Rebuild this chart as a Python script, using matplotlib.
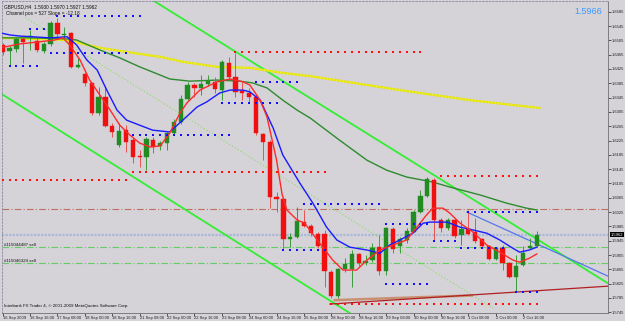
import matplotlib.pyplot as plt
from matplotlib.transforms import blended_transform_factory

plt.rcParams['font.family'] = ['Liberation Sans', 'DejaVu Sans']

# ---- candles (GBPUSD H4) ----
opens = [1.6492, 1.6475, 1.6481, 1.6509, 1.6514, 1.6503, 1.6475, 1.6495, 1.6554, 1.6520,
         1.6526, 1.6430, 1.6411, 1.6386, 1.6302, 1.6346, 1.6265, 1.6212, 1.6254, 1.6226,
         1.6181, 1.6178, 1.6226, 1.6209, 1.6218, 1.6246, 1.6276, 1.6341, 1.6380, 1.6372,
         1.6383, 1.6388, 1.6366, 1.6442, 1.6402, 1.6363, 1.6358, 1.6346, 1.6243, 1.6220,
         1.6066, 1.6063, 1.5949, 1.5955, 1.5997, 1.5986, 1.5963, 1.5963, 1.5857, 1.5790,
         1.5865, 1.5865, 1.5907, 1.5882, 1.5890, 1.5927, 1.5860, 1.5977, 1.5930, 1.5946,
         1.5969, 1.6025, 1.6069, 1.6114, 1.6002, 1.5980, 1.6002, 1.5960, 1.5977, 1.5969,
         1.5949, 1.5930, 1.5893, 1.5924, 1.5882, 1.5843, 1.5876, 1.5924, 1.5930]
highs = [1.6498, 1.6489, 1.6514, 1.6514, 1.6534, 1.6512, 1.6500, 1.6559, 1.6568, 1.6542,
         1.6528, 1.6456, 1.6416, 1.6388, 1.6374, 1.6377, 1.6274, 1.6274, 1.6268, 1.6232,
         1.6198, 1.6234, 1.6234, 1.6223, 1.6248, 1.6285, 1.6352, 1.6388, 1.6386, 1.6408,
         1.6408, 1.6402, 1.6450, 1.6458, 1.6470, 1.6388, 1.6372, 1.6355, 1.6246, 1.6226,
         1.6080, 1.6066, 1.5966, 1.6038, 1.6030, 1.5991, 1.5969, 1.5974, 1.5862, 1.5870,
         1.5896, 1.5918, 1.5912, 1.5904, 1.5938, 1.5960, 1.5982, 1.5982, 1.5955, 1.5980,
         1.6030, 1.6086, 1.6122, 1.6120, 1.6008, 1.6008, 1.6008, 1.6002, 1.6030, 1.6008,
         1.5952, 1.5932, 1.5927, 1.5932, 1.5885, 1.5904, 1.5930, 1.5952, 1.5971]
lows = [1.6464, 1.6436, 1.6472, 1.6442, 1.6478, 1.6472, 1.6470, 1.6489, 1.6517, 1.6512,
        1.6428, 1.6428, 1.6377, 1.6296, 1.6296, 1.6262, 1.6234, 1.6206, 1.6192, 1.6162,
        1.6150, 1.6142, 1.6190, 1.6198, 1.6198, 1.6240, 1.6271, 1.6338, 1.6346, 1.6352,
        1.6377, 1.6358, 1.6338, 1.6394, 1.6346, 1.6338, 1.6332, 1.6240, 1.6170, 1.6036,
        1.6025, 1.5918, 1.5927, 1.5952, 1.5983, 1.5958, 1.5924, 1.5815, 1.5784, 1.5784,
        1.5857, 1.5815, 1.5873, 1.5876, 1.5885, 1.5848, 1.5848, 1.5910, 1.5912, 1.5940,
        1.5969, 1.6022, 1.6066, 1.5946, 1.5969, 1.5974, 1.5952, 1.5932, 1.5960, 1.5938,
        1.5927, 1.5890, 1.5890, 1.5862, 1.5840, 1.5801, 1.5873, 1.5921, 1.5927]
closes = [1.6472, 1.6484, 1.6509, 1.6500, 1.6517, 1.6478, 1.6495, 1.6554, 1.6523, 1.6523,
          1.6430, 1.6436, 1.6386, 1.6302, 1.6346, 1.6265, 1.6248, 1.6251, 1.6220, 1.6178,
          1.6178, 1.6229, 1.6206, 1.6218, 1.6246, 1.6276, 1.6341, 1.6380, 1.6372, 1.6383,
          1.6391, 1.6369, 1.6444, 1.6402, 1.6360, 1.6358, 1.6346, 1.6246, 1.6220, 1.6066,
          1.6063, 1.5949, 1.5955, 1.5999, 1.5986, 1.5966, 1.5930, 1.5860, 1.5790, 1.5865,
          1.5879, 1.5907, 1.5882, 1.5888, 1.5924, 1.5860, 1.5980, 1.5921, 1.5949, 1.5971,
          1.6025, 1.6069, 1.6117, 1.6002, 1.5980, 1.6002, 1.5958, 1.5977, 1.5963, 1.5943,
          1.5930, 1.5893, 1.5924, 1.5882, 1.5843, 1.5874, 1.5910, 1.5930, 1.5962]

# ---- indicator lines (bar position, price) ----
red_ma_x = [-0.4, 2.5, 5.4, 7.6, 8.8, 9.8, 11.3, 12.7, 14.2, 15.7, 17.1, 18.6, 20.0, 21.5,
            23.0, 24.4, 25.9, 26.9, 28.8, 31.3, 33.2, 35.1, 36.1, 37.6, 38.6, 40.0, 40.8,
            41.5, 43.0, 44.1, 46.3, 48.2, 49.7, 51.7, 53.2, 55.1, 57.0, 59.0, 60.5, 61.9,
            62.8, 64.3, 65.3, 66.8, 68.7, 70.7, 72.6, 74.5, 75.5, 76.9, 78.0]
red_ma_y = [1.6484, 1.6495, 1.6501, 1.6506, 1.6512, 1.6492, 1.6450, 1.6394, 1.6352, 1.6310,
            1.6268, 1.6240, 1.6218, 1.6207, 1.6210, 1.6246, 1.6302, 1.6330, 1.6366, 1.6389,
            1.6397, 1.6389, 1.6380, 1.6338, 1.6291, 1.6170, 1.6075, 1.6031, 1.6003, 1.5994,
            1.5938, 1.5891, 1.5863, 1.5863, 1.5891, 1.5919, 1.5933, 1.5947, 1.5983, 1.6017,
            1.6036, 1.6036, 1.6022, 1.5994, 1.5969, 1.5933, 1.5913, 1.5891, 1.5885, 1.5896,
            1.5908]
blue_ma_x = [-0.4, 1.1, 2.5, 4.4, 6.9, 9.4, 10.8, 12.3, 13.8, 15.2, 16.7, 18.1, 20.0, 21.9,
             24.4, 26.3, 28.4, 29.8, 31.7, 33.2, 35.1, 36.1, 37.6, 39.5, 40.9, 43.4, 45.3,
             47.3, 48.8, 50.7, 53.2, 55.1, 56.5, 58.0, 59.9, 61.4, 62.4, 64.9, 66.8, 68.7,
             70.7, 72.6, 74.5, 75.5, 76.9, 78.0]
blue_ma_y = [1.6526, 1.6520, 1.6517, 1.6515, 1.6512, 1.6515, 1.6492, 1.6450, 1.6422, 1.6366,
             1.6310, 1.6282, 1.6268, 1.6254, 1.6249, 1.6282, 1.6319, 1.6333, 1.6358, 1.6366,
             1.6366, 1.6361, 1.6338, 1.6260, 1.6185, 1.6106, 1.6050, 1.5983, 1.5947, 1.5927,
             1.5919, 1.5910, 1.5933, 1.5947, 1.5966, 1.5994, 1.5997, 1.5997, 1.5983, 1.5975,
             1.5966, 1.5947, 1.5924, 1.5913, 1.5919, 1.5927]
green_ma_x = [-0.4, 4.0, 9.4, 10.8, 14.2, 17.1, 20.0, 23.0, 24.4, 27.3, 31.3, 34.6, 36.5,
              38.6, 40.9, 43.0, 44.9, 49.2, 53.2, 56.1, 59.0, 62.8, 65.3, 69.7, 73.6, 76.5, 78.0]
green_ma_y = [1.6512, 1.6512, 1.6509, 1.6506, 1.6478, 1.6456, 1.6431, 1.6408, 1.6397, 1.6391,
              1.6394, 1.6391, 1.6386, 1.6372, 1.6338, 1.6310, 1.6288, 1.6226, 1.6170, 1.6142,
              1.6123, 1.6109, 1.6095, 1.6073, 1.6050, 1.6036, 1.6031]
yellow_ma_x = [-0.4, 9.4, 14.2, 19.0, 23.0, 26.3, 31.3, 36.1, 40.9, 44.9, 58.0, 68.2, 78.4]
yellow_ma_y = [1.6512, 1.6506, 1.6484, 1.6470, 1.6459, 1.6445, 1.6431, 1.6428, 1.6414,
               1.6405, 1.6366, 1.6338, 1.6316]

# channel and trend lines (two end points each)
chan_upper = ([20.0, 88.4], [1.6640, 1.5826])
chan_lower = ([-0.4, 52.0], [1.6358, 1.5727])
chan_mid = ([3.3, 71.6], [1.6569, 1.5757])
blue_trend = ([67.8, 88.4], [1.6025, 1.5846])
red_trend = ([47.8, 88.4], [1.5768, 1.5818])
tan_trend = ([48.5, 68.5], [1.5779, 1.5792])

# dotted level rows: (price, first bar, last bar, colour)
dot_rows = [
    (1.6573, 8, 20, 'blue'), (1.6537, 4, 6, 'blue'), (1.6470, 7, 18, 'blue'),
    (1.6433, 1, 5, 'blue'), (1.6473, 34, 61, 'red'), (1.6389, 37, 43, 'blue'),
    (1.6330, 32, 40, 'blue'), (1.6240, 19, 33, 'blue'), (1.6115, 0, 18, 'red'),
    (1.6137, 19, 47, 'red'), (1.6047, 44, 55, 'blue'), (1.6126, 64, 78, 'red'),
    (1.6025, 68, 78, 'blue'), (1.5991, 56, 62, 'blue'), (1.5944, 63, 66, 'blue'),
    (1.5924, 67, 73, 'blue'), (1.5919, 41, 47, 'blue'), (1.5824, 56, 62, 'blue'),
    (1.5801, 75, 78, 'blue'), (1.5768, 48, 78, 'red'),
]

order_levels = [1.5927, 1.5882]
order_labels = ['#115044487 sell', '#115046324 sell']
brown_level = 1.6033
bid = 1.5962

price_ticks = [1.5745, 1.5785, 1.5825, 1.5865, 1.5905, 1.5945, 1.5985, 1.6025, 1.6065,
               1.6105, 1.6145, 1.6185, 1.6225, 1.6265, 1.6305, 1.6345, 1.6385, 1.6425,
               1.6465, 1.6505, 1.6545, 1.6585]
date_pos = list(range(0, 77, 4))
date_labels = ['16 Sep 2009', '16 Sep 16:00', '17 Sep 08:00', '18 Sep 00:00', '18 Sep 16:00',
               '21 Sep 08:00', '22 Sep 00:00', '22 Sep 16:00', '23 Sep 08:00', '24 Sep 00:00',
               '24 Sep 16:00', '25 Sep 08:00', '28 Sep 00:00', '28 Sep 16:00', '29 Sep 08:00',
               '30 Sep 00:00', '30 Sep 16:00', '1 Oct 08:00', '2 Oct 00:00', '2 Oct 16:00']

BG = '#d5d2d8'
fig = plt.figure(figsize=(6.25, 3.21), dpi=100, facecolor=BG)
ax = fig.add_axes([2 / 625, 8 / 321, 606 / 625, 312 / 321], facecolor=BG)
ax.set_xlim(-0.1, 88.4)
ax.set_ylim(1.5743, 1.6615)

# horizontal levels
ax.axhline(brown_level, color='#c07060', lw=0.8, ls=(0, (6, 2, 1, 2)))
ax.axhline(bid, color='#a8b8d8', lw=1.6, ls=(0, (1, 0.6)))
for lv in order_levels:
    ax.axhline(lv, color='#66cc66', lw=0.8, ls=(0, (6, 2, 1, 2)))

# channel
ax.plot(*chan_upper, color='#33ee33', lw=1.3)
ax.plot(*chan_lower, color='#33ee33', lw=1.3)
ax.plot(*chan_mid, color='#88e060', lw=0.8, ls=(0, (1, 2)))
ax.plot(*blue_trend, color='#5577ee', lw=0.9)
ax.plot(*tan_trend, color='#c89070', lw=1.8)
ax.plot(*red_trend, color='#b02020', lw=0.9)

# slow moving averages
ax.plot(yellow_ma_x, yellow_ma_y, color='#e6e600', lw=1.6)
ax.plot(yellow_ma_x, yellow_ma_y, color='#fbfbc8', lw=0.6, ls=(0, (1, 3)))
ax.plot(green_ma_x, green_ma_y, color='#2e8b2e', lw=1.0)

# candles
w = 0.62
for i in range(len(opens)):
    o, h, l, c = opens[i], highs[i], lows[i], closes[i]
    up = c >= o
    body = '#228b22' if up else '#f01010'
    wick = '#3a9a3a' if up else '#e85050'
    ax.vlines(i, l, h, color=wick, lw=0.7, zorder=3)
    ax.bar(i, max(abs(c - o), 0.0002), w, bottom=min(o, c), color=body,
           edgecolor=body, lw=0.3, zorder=4)

ax.plot(blue_ma_x, blue_ma_y, color='#1a1aff', lw=1.0, zorder=5)
ax.plot(red_ma_x, red_ma_y, color='#ff2a2a', lw=1.0, zorder=5)

# dotted fractal levels
for price, a, b, col in dot_rows:
    xs = list(range(a, b + 1))
    ax.plot(xs, [price] * len(xs), 's', ms=1.7, mew=0,
            color='#1010ff' if col == 'blue' else '#ff1010', zorder=6)

# axes styling
for side in ['left', 'top']:
    ax.spines[side].set_color('#8a8aa0')
    ax.spines[side].set_linestyle((0, (2, 2)))
    ax.spines[side].set_linewidth(0.6)
for side in ['right', 'bottom']:
    ax.spines[side].set_color('#707070')
    ax.spines[side].set_linestyle((0, (2, 1)))
    ax.spines[side].set_linewidth(0.6)
ax.yaxis.tick_right()
ax.set_yticks(price_ticks)
ax.set_yticklabels([f'{p:.4f}' for p in price_ticks])
ax.tick_params(axis='y', labelsize=3.0, length=2, width=0.5, pad=1, colors='#202020')
ax.set_xticks(date_pos)
ax.set_xticklabels(date_labels)
ax.tick_params(axis='x', labelsize=3.0, length=2, width=0.5, pad=0.5, colors='#202020')
for lab in ax.get_xticklabels():
    lab.set_horizontalalignment('left')

# texts
ytr = blended_transform_factory(ax.transAxes, ax.transData)
ax.text(1.004, bid, f'{bid:.4f}', transform=ytr, fontsize=3.0, color='white',
        va='center', ha='left', bbox=dict(boxstyle='square,pad=0.15', fc='black', ec='none'))
for lv, lab in zip(order_levels, order_labels):
    ax.text(0.004, lv, lab, transform=ytr, fontsize=3.2, va='bottom', ha='left', color='#101010')
fig.text(4 / 625, 1 - 7 / 321, 'GBPUSD,H4  1.5930 1.5970 1.5927 1.5962', fontsize=3.4,
         color='#101010', va='center')
fig.text(6 / 625, 1 - 14 / 321, 'Channel pos = 527 Slope = -12.18', fontsize=3.4,
         color='#101010', va='center')
fig.text(574 / 625, 1 - 11 / 321, '1.5966', fontsize=6.5, color='#3a9bff', va='center')
fig.text(4 / 625, 1 - 306 / 321, 'Interbank FX Trader 4, \u00a9 2001-2009 MetaQuotes Software Corp.',
         fontsize=3.2, color='#101010', va='center')

fig.savefig('out.png', dpi=100, facecolor=BG)
